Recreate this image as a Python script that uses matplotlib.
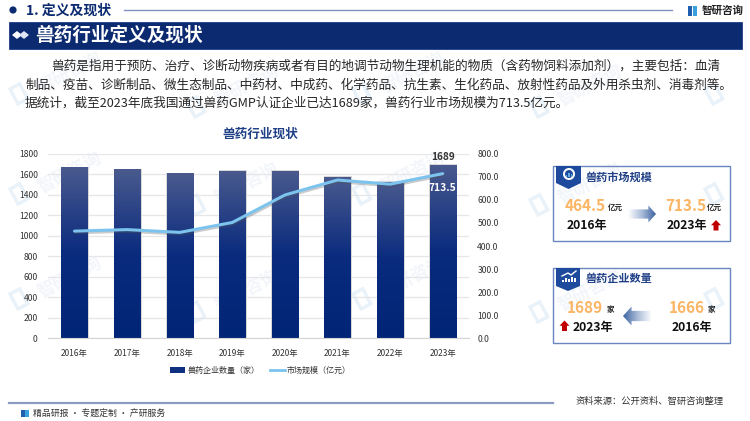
import numpy as np
import matplotlib
matplotlib.use("Agg")
import matplotlib.pyplot as plt
from matplotlib.patches import Polygon, Rectangle, Circle, Wedge
from matplotlib.colors import LinearSegmentedColormap
from matplotlib.lines import Line2D
from matplotlib.patches import Patch
import matplotlib.patheffects as pe

plt.rcParams['font.family'] = ['Noto Sans CJK SC', 'DejaVu Sans']

years = ['2016年', '2017年', '2018年', '2019年', '2020年', '2021年', '2022年', '2023年']
companies = [1666, 1647, 1608, 1632, 1632, 1576, 1525, 1689]
market = [464.5, 471, 459, 502, 621, 686, 668, 713.5]

section_title = '1. 定义及现状'
banner_title = '兽药行业定义及现状'
chart_title = '兽药行业现状'
body_lines = [
    '兽药是指用于预防、治疗、诊断动物疾病或者有目的地调节动物生理机能的物质（含药物饲料添加剂），主要包括：血清',
    '制品、疫苗、诊断制品、微生态制品、中药材、中成药、化学药品、抗生素、生化药品、放射性药品及外用杀虫剂、消毒剂等。',
    '据统计，截至2023年底我国通过兽药GMP认证企业已达1689家，兽药行业市场规模为713.5亿元。',
]
NAVY = '#0b2a6f'

fig = plt.figure(figsize=(7.5, 4.21), dpi=100, facecolor='white')
bg = fig.add_axes([0, 0, 1, 1], zorder=0)
bg.set_xlim(0, 750); bg.set_ylim(421, 0); bg.axis('off')

# watermarks
for k, wx in enumerate((20, 197, 363, 540, 715)):
    rows = (97, 197, 302) if k % 2 == 0 else (110, 208, 315)
    for wy in rows:
        if wx + 90 < 750:
            bg.text(wx + 50, wy - 25, '智研咨询', color='#f2f5fa', fontsize=12.5, rotation=28,
                    ha='center', va='center', fontweight='bold', zorder=0.5)
        bg.add_patch(Rectangle((wx - 10, wy - 8), 11, 17, angle=-28, fc='none', ec='#e9f1f9', lw=2.4, zorder=0.4))

# header
bg.add_patch(Circle((13, 10), 3.6, fc=NAVY, ec='none', zorder=2))
bg.text(26, 10.5, section_title, fontsize=10, fontweight='bold', color=NAVY, va='center', zorder=2)
bg.plot([124, 672], [10, 10], color='#8093bf', lw=1, zorder=2)
bg.add_patch(Rectangle((688, 6), 3.5, 10, fc='#1f5fae', ec='none', zorder=2))
bg.add_patch(Rectangle((693, 6), 4, 10, fc='#3aa0dc', ec='none', zorder=2))
bg.text(702, 10.5, '智研咨询', fontsize=7.6, fontweight='bold', color='#222222', va='center', zorder=2)
bg.add_patch(Rectangle((9, 22), 733, 26.5, fc=NAVY, ec='#1d3f86', lw=0.6, zorder=2))
for cx, col in ((17, 'white'), (24, '#dfe6f3')):
    bg.add_patch(Polygon([(cx - 5, 35), (cx, 31), (cx + 5, 35), (cx, 39)], fc=col, ec='none', zorder=3))
bg.text(35, 35, banner_title, fontsize=13.4, fontweight='bold', color='white', va='center', zorder=3)

# body
body_pos = [(51.5, 66.5), (25, 85), (25, 103.5)]
for (bx, by), line in zip(body_pos, body_lines):
    bg.text(bx, by, line, fontsize=9.12, color='#262626', va='center', zorder=2)

bg.text(260.5, 134.5, chart_title, fontsize=9.1, fontweight='bold', color='#1f3f86', ha='center', va='center', zorder=2)

# chart
L, R, T, B = 48.2, 469.0, 153.7, 338.3
ax = fig.add_axes([L / 750, 1 - B / 421, (R - L) / 750, (B - T) / 421], zorder=2)
ax.patch.set_alpha(0)
x = np.arange(len(years))
ax.set_xlim(-0.5, len(years) - 0.5)
ax.set_ylim(0, 1800)
ax.set_yticks(range(0, 1801, 200))
ax.set_xticks(x, years)
ax.tick_params(length=0, labelsize=6.2, labelcolor='#333333')
ax.tick_params(axis='x', labelsize=6.0, pad=8)
ax.tick_params(axis='y', pad=7.5)
ax.grid(axis='y', color='#e6e6e6', lw=0.9)
ax.set_axisbelow(True)
for s in ax.spines.values():
    s.set_visible(False)
ax.spines['bottom'].set_visible(True)
ax.spines['bottom'].set_color('#d4d4d4')

cmap = LinearSegmentedColormap.from_list('bar', ['#012576', '#0a2b7e', '#4a5a8e'])
grad = np.linspace(0, 1, 256).reshape(-1, 1)
bars = ax.bar(x, companies, width=0.495, color='none', zorder=2)
for b in bars:
    bx0, bw, bh = b.get_x(), b.get_width(), b.get_height()
    ax.add_patch(Rectangle((bx0 - 0.01, 0), bw + 0.04, bh + 6, fc='#d8d8d8', ec='none', zorder=1.5))
    im = ax.imshow(grad, extent=(bx0, bx0 + bw, 0, bh), origin='lower', cmap=cmap, aspect='auto', zorder=2)
    im.set_clip_path(b)
ax.set_xlim(-0.5, len(years) - 0.5)
ax.set_ylim(0, 1800)
ax.text(x[-1], companies[-1] + 30, f'{companies[-1]}', ha='center', va='bottom', fontsize=7.2, fontweight='bold', color='#333333')

ax2 = ax.twinx()
ax2.set_ylim(0, 800)
ax2.set_yticks(range(0, 801, 100), [f'{v:.1f}' for v in range(0, 801, 100)])
ax2.tick_params(length=0, labelsize=6.2, labelcolor='#333333', pad=6)
for s in ax2.spines.values():
    s.set_visible(False)
ax2.plot(x, market, color='#7cc3ee', lw=2.2, solid_capstyle='round', zorder=5,
         path_effects=[pe.SimpleLineShadow(offset=(0.6, -1.2), shadow_color='#555555', alpha=0.3), pe.Normal()])
ax2.annotate(f'{market[-1]}', (x[-1], market[-1]), xytext=(0, -10), textcoords='offset points', ha='center', va='center',
             fontsize=7.4, fontweight='bold', color='white')

# legend
handles = [Patch(fc='#0f2f80', ec='none'), Line2D([0], [0], color='#7cc3ee', lw=2)]
fig.legend(handles, ['兽药企业数量（家）', '市场规模（亿元）'], loc='center', bbox_to_anchor=(260.5 / 750, 1 - 370 / 421),
           ncol=2, frameon=False, fontsize=5.8, handlelength=1.85, handletextpad=0.25, columnspacing=1.3,
           labelcolor='#333333')

# overlay for cards
ov = fig.add_axes([0, 0, 1, 1], zorder=3)
ov.set_xlim(0, 750); ov.set_ylim(421, 0); ov.axis('off'); ov.patch.set_alpha(0)

ORANGE = '#fbb565'
BORDER = '#6a86bf'
NUM = 11
YR = 8.7


def badge(x0, x1, y0, y1, tip):
    ov.add_patch(Polygon([(x0, y0), (x1, y0), (x1, y1), ((x0 + x1) / 2, y1 + tip), (x0, y1)], fc='#1d4a9c', ec='none'))


def red_arrow(cx, y0, y1, w):
    ym = y0 + (y1 - y0) * 0.5
    ov.add_patch(Polygon([(cx, y0), (cx + w / 2, ym), (cx + w / 4, ym), (cx + w / 4, y1), (cx - w / 4, y1), (cx - w / 4, ym), (cx - w / 2, ym)],
                         fc='#c00000', ec='none'))


def grad_arrow(x_tail, x_tip, yc, h):
    sign = 1 if x_tip > x_tail else -1
    neck = x_tip - sign * (h * 0.45)
    pts = [(x_tail, yc - h * 0.27), (neck, yc - h * 0.27), (neck, yc - h * 0.5), (x_tip, yc),
           (neck, yc + h * 0.5), (neck, yc + h * 0.27), (x_tail, yc + h * 0.27)]
    poly = Polygon(pts, fc='none', ec='none')
    ov.add_patch(poly)
    cm = LinearSegmentedColormap.from_list('a', ['#ffffff', '#a9bbd8', '#3d639f'])
    g = np.linspace(0, 1, 128).reshape(1, -1)
    x0, x1 = min(x_tail, x_tip), max(x_tail, x_tip)
    im = ov.imshow(g if sign > 0 else g[:, ::-1], extent=(x0, x1, yc + h / 2, yc - h / 2), cmap=cm, aspect='auto')
    im.set_clip_path(poly)
    ov.set_xlim(0, 750); ov.set_ylim(421, 0)


# card 1
ov.add_patch(Rectangle((552.5, 166), 177.5, 75, fc='none', ec=BORDER, lw=1))
badge(556, 581, 166, 183, 6)
ov.add_patch(Wedge((569, 174), 6, 0, 360, width=2, fc='white', ec='none'))
ov.bar([566.5, 569, 571.5], [-2, -4, -3], width=1.6, bottom=177, color='#5fa8e0')
ov.text(585.5, 177, '兽药市场规模', fontsize=8.0, fontweight='bold', color='#1f3f86', va='center')
ov.text(565, 206, '464.5', fontsize=NUM, fontweight='bold', color=ORANGE, va='center')
ov.text(608, 207, '亿元', fontsize=5.4, fontweight='bold', color='#222222', va='center')
ov.text(567, 225, '2016年', fontsize=YR, fontweight='bold', color='#111111', va='center')
ov.text(665, 206, '713.5', fontsize=NUM, fontweight='bold', color=ORANGE, va='center')
ov.text(707, 207, '亿元', fontsize=5.4, fontweight='bold', color='#222222', va='center')
ov.text(666.5, 225, '2023年', fontsize=YR, fontweight='bold', color='#111111', va='center')
red_arrow(716, 220, 230.5, 10)
grad_arrow(628, 656, 214, 17)

# card 2
ov.add_patch(Rectangle((552.5, 268), 177.5, 75, fc='none', ec=BORDER, lw=1))
badge(556, 580, 268, 286, 5)
ov.bar([563, 566, 569, 572, 575], [-2, -4, -3, -5, -4], width=2, bottom=282, color='white')
ov.plot([562, 568, 571, 576], [276, 273, 275, 271], color='white', lw=1)
ov.text(585.5, 278, '兽药企业数量', fontsize=8.0, fontweight='bold', color='#1f3f86', va='center')
ov.text(567, 308, '1689', fontsize=NUM, fontweight='bold', color=ORANGE, va='center')
ov.text(606.5, 309, '家', fontsize=5.4, fontweight='bold', color='#222222', va='center')
ov.text(572.5, 327, '2023年', fontsize=YR, fontweight='bold', color='#111111', va='center')
red_arrow(564.5, 320.5, 331, 10)
ov.text(669, 308, '1666', fontsize=NUM, fontweight='bold', color=ORANGE, va='center')
ov.text(708, 309, '家', fontsize=5.4, fontweight='bold', color='#222222', va='center')
ov.text(671.5, 327, '2016年', fontsize=YR, fontweight='bold', color='#111111', va='center')
grad_arrow(651.5, 623, 316, 19)

# footer
ov.plot([9, 553], [402.7, 402.7], color='#8b9cc0', lw=1.6)
ov.add_patch(Rectangle((21, 410), 3.5, 7, fc='#1f5fae', ec='none'))
ov.add_patch(Rectangle((25, 410), 4, 7, fc='#3aa0dc', ec='none'))
ov.text(33, 413.5, '精品研报 · 专题定制 · 产研服务', fontsize=6.4, color='#333333', va='center')
ov.text(724, 401.7, '资料来源：公开资料、智研咨询整理', fontsize=6.7, color='#333333', va='center', ha='right')

fig.savefig('out.png', dpi=100)
